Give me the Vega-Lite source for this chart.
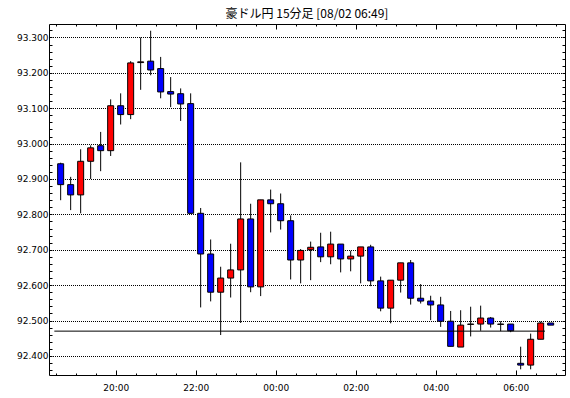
{
  "$schema": "https://vega.github.io/schema/vega-lite/v6.json",
  "width": 516,
  "height": 351,
  "autosize": "none",
  "padding": {"left": 49, "top": 24, "right": 5, "bottom": 23},
  "background": "white",
  "config": {
    "view": {"stroke": "black", "strokeWidth": 1},
    "axis": {"domain": false, "labelFont": "DejaVu Sans", "labelFontSize": 9, "labelColor": "black", "tickColor": "black", "tickWidth": 1, "labelOverlap": false, "title": null}
  },
  "title": {"text": "豪ドル円 15分足 [08/02 06:49]", "font": "Noto Sans CJK JP", "fontSize": 12, "fontWeight": "normal", "anchor": "middle", "baseline": "bottom", "offset": -9, "color": "black"},
  "datasets": {
    "candles": [
      {"t": "2023-08-01T18:30:00Z", "o": 92.943, "h": 92.946, "l": 92.840, "c": 92.884},
      {"t": "2023-08-01T18:45:00Z", "o": 92.884, "h": 92.906, "l": 92.812, "c": 92.855},
      {"t": "2023-08-01T19:00:00Z", "o": 92.855, "h": 92.984, "l": 92.803, "c": 92.950},
      {"t": "2023-08-01T19:15:00Z", "o": 92.950, "h": 92.995, "l": 92.900, "c": 92.988},
      {"t": "2023-08-01T19:30:00Z", "o": 92.994, "h": 93.033, "l": 92.922, "c": 92.980},
      {"t": "2023-08-01T19:45:00Z", "o": 92.980, "h": 93.125, "l": 92.965, "c": 93.107},
      {"t": "2023-08-01T20:00:00Z", "o": 93.107, "h": 93.142, "l": 93.054, "c": 93.082},
      {"t": "2023-08-01T20:15:00Z", "o": 93.082, "h": 93.233, "l": 93.069, "c": 93.228},
      {"t": "2023-08-01T20:30:00Z", "o": 93.229, "h": 93.300, "l": 93.152, "c": 93.231},
      {"t": "2023-08-01T20:45:00Z", "o": 93.233, "h": 93.319, "l": 93.193, "c": 93.208},
      {"t": "2023-08-01T21:00:00Z", "o": 93.212, "h": 93.245, "l": 93.128, "c": 93.146},
      {"t": "2023-08-01T21:15:00Z", "o": 93.147, "h": 93.188, "l": 93.103, "c": 93.140},
      {"t": "2023-08-01T21:30:00Z", "o": 93.141, "h": 93.156, "l": 93.064, "c": 93.112},
      {"t": "2023-08-01T21:45:00Z", "o": 93.113, "h": 93.142, "l": 92.801, "c": 92.803},
      {"t": "2023-08-01T22:00:00Z", "o": 92.803, "h": 92.818, "l": 92.537, "c": 92.688},
      {"t": "2023-08-01T22:15:00Z", "o": 92.688, "h": 92.729, "l": 92.554, "c": 92.580},
      {"t": "2023-08-01T22:30:00Z", "o": 92.580, "h": 92.652, "l": 92.459, "c": 92.620},
      {"t": "2023-08-01T22:45:00Z", "o": 92.620, "h": 92.717, "l": 92.565, "c": 92.643},
      {"t": "2023-08-01T23:00:00Z", "o": 92.643, "h": 92.947, "l": 92.493, "c": 92.787},
      {"t": "2023-08-01T23:15:00Z", "o": 92.787, "h": 92.830, "l": 92.580, "c": 92.595},
      {"t": "2023-08-01T23:30:00Z", "o": 92.595, "h": 92.841, "l": 92.569, "c": 92.841},
      {"t": "2023-08-01T23:45:00Z", "o": 92.841, "h": 92.870, "l": 92.749, "c": 92.830},
      {"t": "2023-08-02T00:00:00Z", "o": 92.830, "h": 92.859, "l": 92.757, "c": 92.782},
      {"t": "2023-08-02T00:15:00Z", "o": 92.782, "h": 92.797, "l": 92.616, "c": 92.671},
      {"t": "2023-08-02T00:30:00Z", "o": 92.671, "h": 92.702, "l": 92.605, "c": 92.698},
      {"t": "2023-08-02T00:45:00Z", "o": 92.700, "h": 92.723, "l": 92.614, "c": 92.707},
      {"t": "2023-08-02T01:00:00Z", "o": 92.708, "h": 92.748, "l": 92.665, "c": 92.680},
      {"t": "2023-08-02T01:15:00Z", "o": 92.680, "h": 92.751, "l": 92.659, "c": 92.716},
      {"t": "2023-08-02T01:30:00Z", "o": 92.716, "h": 92.716, "l": 92.636, "c": 92.674},
      {"t": "2023-08-02T01:45:00Z", "o": 92.674, "h": 92.697, "l": 92.639, "c": 92.682},
      {"t": "2023-08-02T02:00:00Z", "o": 92.682, "h": 92.708, "l": 92.605, "c": 92.708},
      {"t": "2023-08-02T02:15:00Z", "o": 92.708, "h": 92.714, "l": 92.597, "c": 92.612},
      {"t": "2023-08-02T02:30:00Z", "o": 92.612, "h": 92.624, "l": 92.526, "c": 92.535},
      {"t": "2023-08-02T02:45:00Z", "o": 92.535, "h": 92.614, "l": 92.492, "c": 92.614},
      {"t": "2023-08-02T03:00:00Z", "o": 92.614, "h": 92.663, "l": 92.579, "c": 92.663},
      {"t": "2023-08-02T03:15:00Z", "o": 92.663, "h": 92.671, "l": 92.545, "c": 92.563},
      {"t": "2023-08-02T03:30:00Z", "o": 92.563, "h": 92.603, "l": 92.548, "c": 92.555},
      {"t": "2023-08-02T03:45:00Z", "o": 92.555, "h": 92.570, "l": 92.501, "c": 92.544},
      {"t": "2023-08-02T04:00:00Z", "o": 92.544, "h": 92.567, "l": 92.482, "c": 92.498},
      {"t": "2023-08-02T04:15:00Z", "o": 92.498, "h": 92.527, "l": 92.427, "c": 92.427},
      {"t": "2023-08-02T04:30:00Z", "o": 92.425, "h": 92.529, "l": 92.425, "c": 92.487},
      {"t": "2023-08-02T04:45:00Z", "o": 92.489, "h": 92.539, "l": 92.455, "c": 92.490},
      {"t": "2023-08-02T05:00:00Z", "o": 92.490, "h": 92.542, "l": 92.471, "c": 92.507},
      {"t": "2023-08-02T05:15:00Z", "o": 92.507, "h": 92.510, "l": 92.480, "c": 92.490},
      {"t": "2023-08-02T05:30:00Z", "o": 92.489, "h": 92.498, "l": 92.470, "c": 92.490},
      {"t": "2023-08-02T05:45:00Z", "o": 92.490, "h": 92.490, "l": 92.467, "c": 92.471},
      {"t": "2023-08-02T06:00:00Z", "o": 92.379, "h": 92.426, "l": 92.362, "c": 92.374},
      {"t": "2023-08-02T06:15:00Z", "o": 92.374, "h": 92.463, "l": 92.362, "c": 92.447},
      {"t": "2023-08-02T06:30:00Z", "o": 92.447, "h": 92.497, "l": 92.447, "c": 92.493},
      {"t": "2023-08-02T06:45:00Z", "o": 92.493, "h": 92.493, "l": 92.487, "c": 92.487}
    ],
    "priceline": [
      {"from": "2023-08-01T18:28:00Z", "to": "2023-08-02T06:44:00Z", "p": 92.47}
    ]
  },
  "resolve": {"axis": {"x": "independent", "y": "independent"}},
  "layer": [
    {
      "data": {"name": "candles"},
      "mark": {"type": "rule", "color": "black", "strokeWidth": 1, "xOffset": 5},
      "encoding": {
        "x": {
          "field": "t", "type": "temporal",
          "scale": {"type": "utc", "domain": [1690914000000, 1690960440000], "padding": 0},
          "axis": {
            "orient": "bottom",
            "grid": false,
            "values": [1690914600000, 1690916400000, 1690918200000, 1690920000000, 1690921800000, 1690923600000, 1690925400000, 1690927200000, 1690929000000, 1690930800000, 1690932600000, 1690934400000, 1690936200000, 1690938000000, 1690939800000, 1690941600000, 1690943400000, 1690945200000, 1690947000000, 1690948800000, 1690950600000, 1690952400000, 1690954200000, 1690956000000, 1690957800000, 1690959600000],
            "tickSize": {"condition": {"test": "utcminutes(datum.value)==0 && utchours(datum.value)%2==0", "value": -5}, "value": -2},
            "labelExpr": "utcminutes(datum.value)==0 && utchours(datum.value)%2==0 ? utcFormat(datum.value, '%H:%M') : ''",
            "labelPadding": 13,
            "labelFlush": false
          }
        },
        "y": {
          "field": "l", "type": "quantitative",
          "scale": {"domain": [92.346, 93.338], "zero": false, "nice": false, "padding": 0},
          "axis": {
            "orient": "left",
            "tickCount": 50,
            "tickSize": -3,
            "labelExpr": "abs(datum.value*10 - round(datum.value*10)) < 0.001 ? format(datum.value, '.3f') : ''",
            "labelPadding": 4,
            "grid": true,
            "gridColor": "black",
            "gridDash": [1, 1],
            "gridDashOffset": 0.5,
            "gridWidth": 1,
            "gridOpacity": {"condition": {"test": "abs(datum.value*10 - round(datum.value*10)) < 0.001", "value": 1}, "value": 0}
          }
        },
        "y2": {"field": "h"}
      }
    },
    {
      "data": {"name": "candles"},
      "mark": {"type": "bar", "stroke": "black", "strokeWidth": 1, "size": 6, "xOffset": 5},
      "encoding": {
        "x": {
          "field": "t", "type": "temporal",
          "axis": {
            "orient": "top",
            "grid": false,
            "labels": false,
            "values": [1690914600000, 1690916400000, 1690918200000, 1690920000000, 1690921800000, 1690923600000, 1690925400000, 1690927200000, 1690929000000, 1690930800000, 1690932600000, 1690934400000, 1690936200000, 1690938000000, 1690939800000, 1690941600000, 1690943400000, 1690945200000, 1690947000000, 1690948800000, 1690950600000, 1690952400000, 1690954200000, 1690956000000, 1690957800000, 1690959600000],
            "tickSize": {"condition": {"test": "utcminutes(datum.value)==0 && utchours(datum.value)%2==0", "value": -5}, "value": -2}
          }
        },
        "y": {"field": "o", "type": "quantitative",
          "axis": {"orient": "right", "grid": false, "labels": false, "tickCount": 50, "tickSize": -3}
        },
        "y2": {"field": "c"},
        "color": {"condition": {"test": "datum.c >= datum.o", "value": "#ff0000"}, "value": "#0000ff"}
      }
    },
    {
      "data": {"name": "priceline"},
      "mark": {"type": "rule", "color": "black", "strokeWidth": 1},
      "encoding": {
        "x": {"field": "from", "type": "temporal", "axis": null},
        "x2": {"field": "to"},
        "y": {"field": "p", "type": "quantitative", "axis": null}
      }
    }
  ]
}
